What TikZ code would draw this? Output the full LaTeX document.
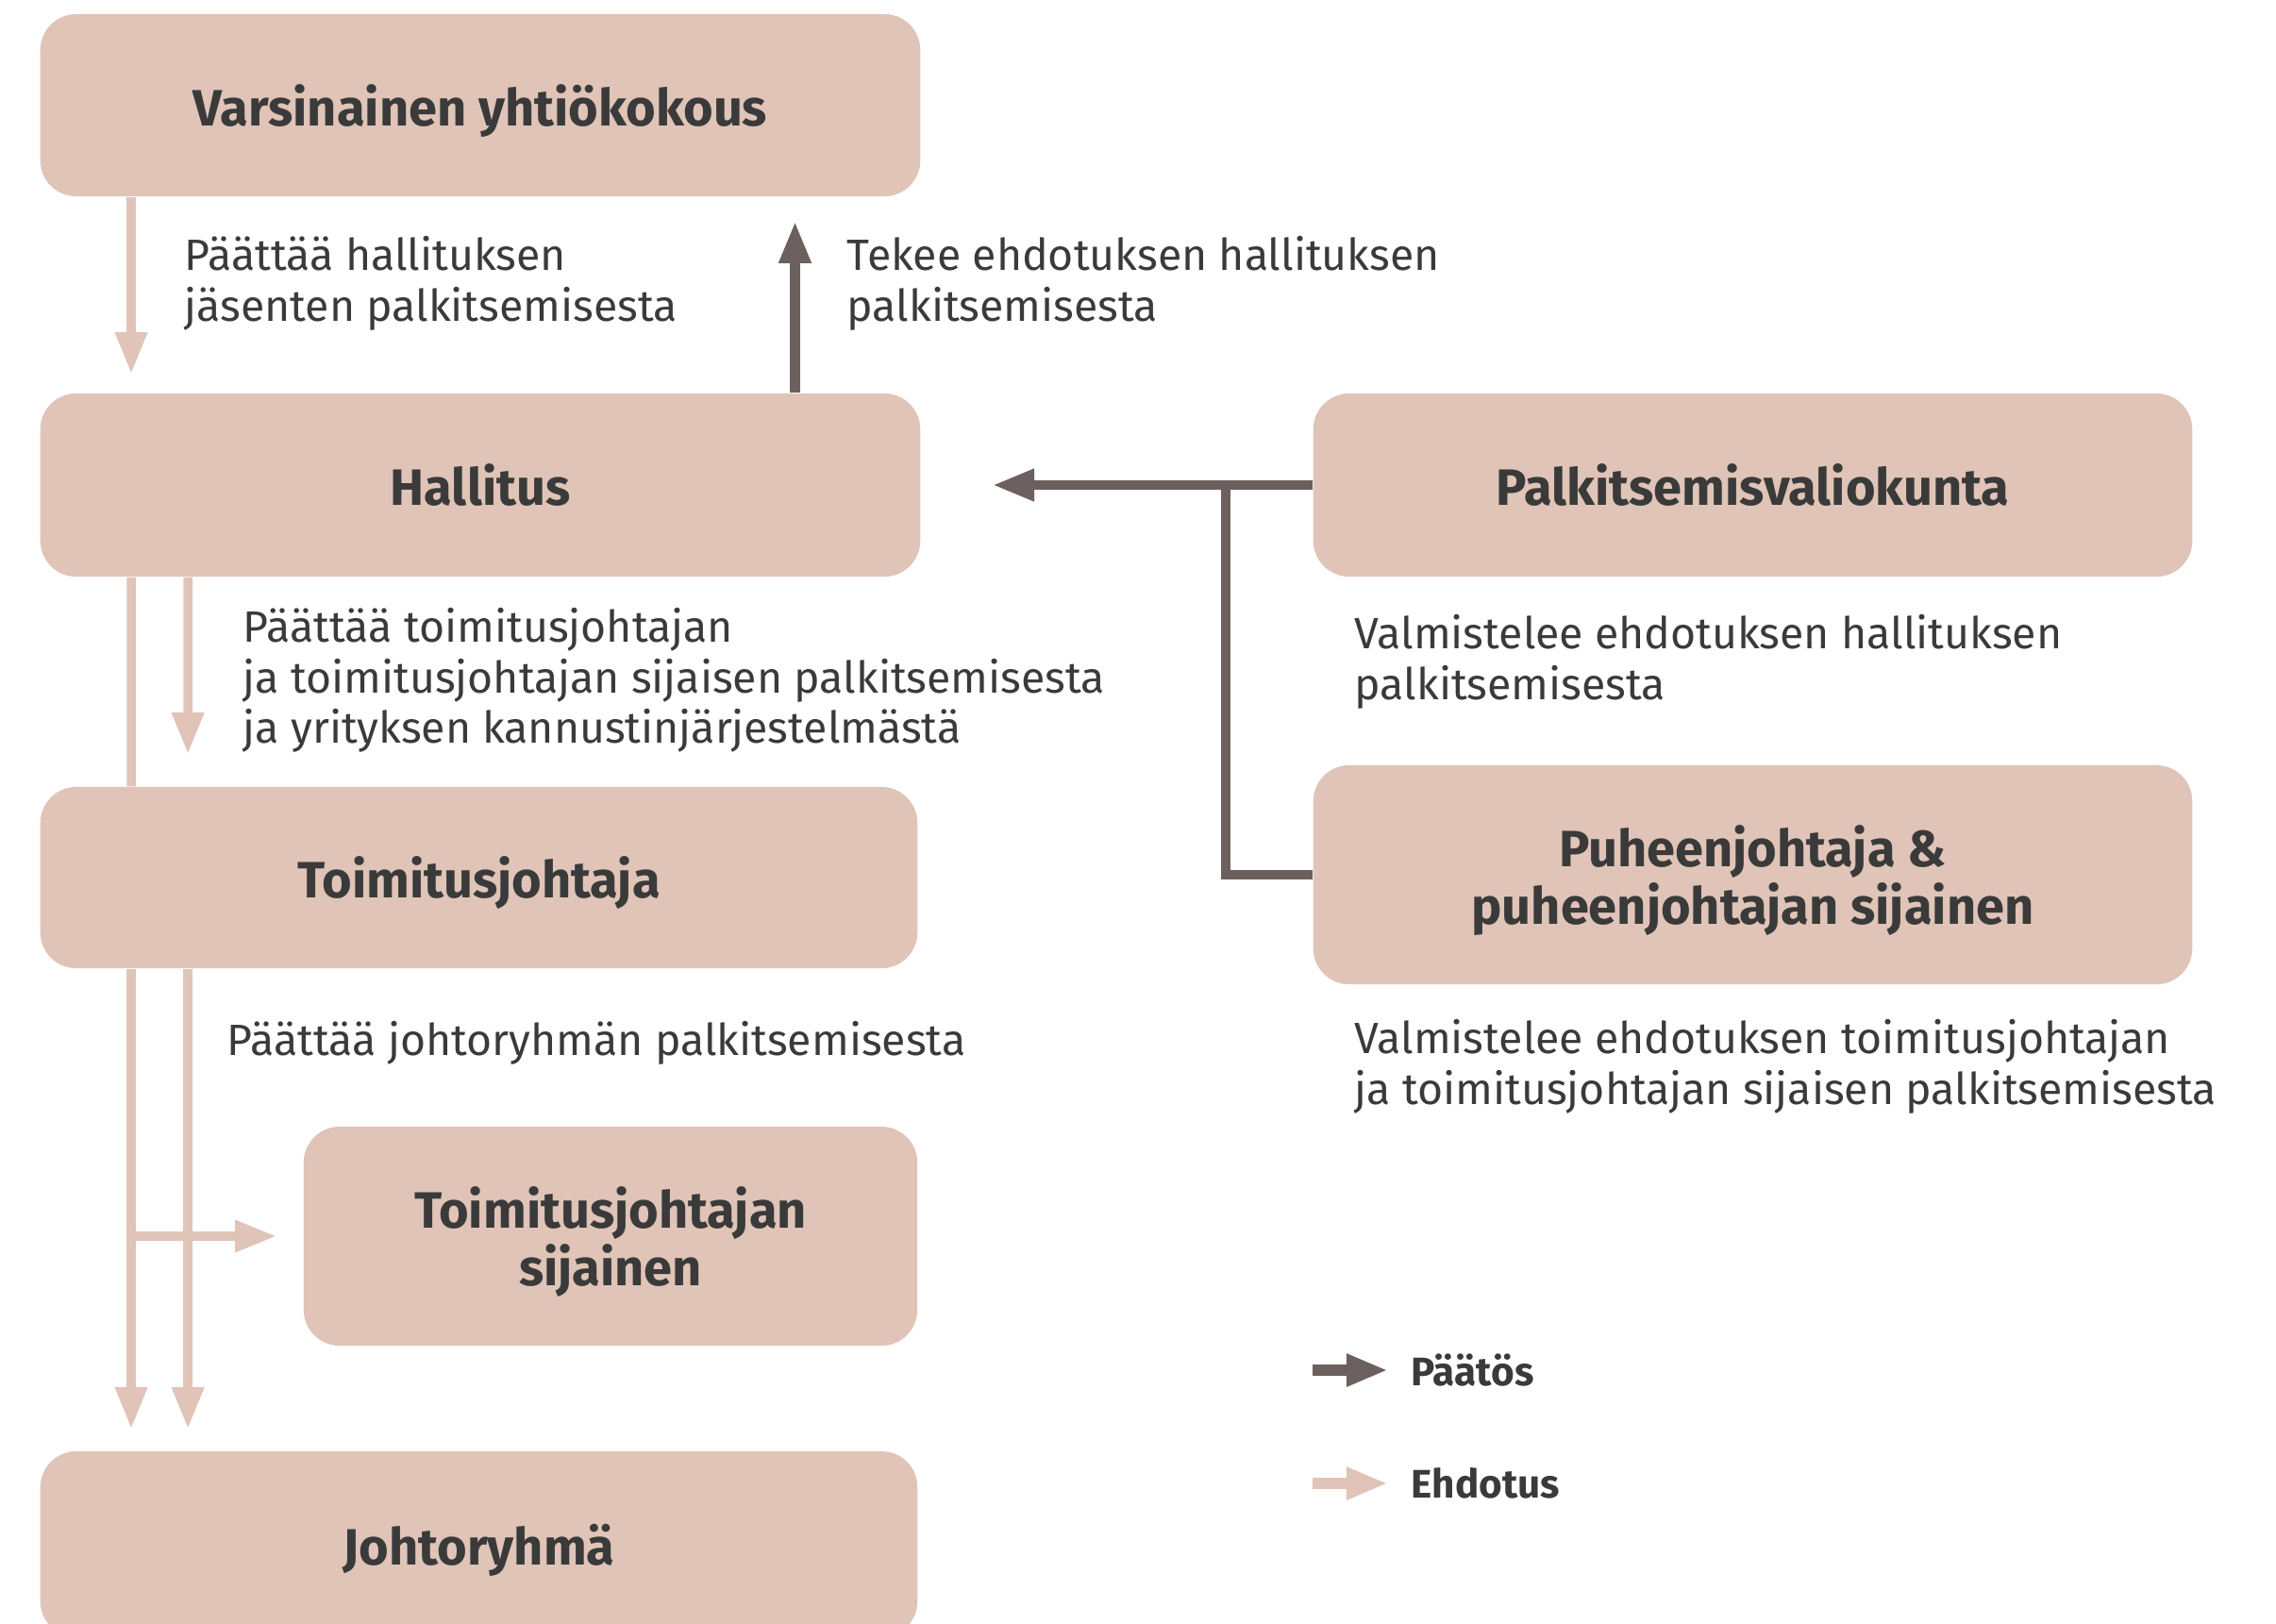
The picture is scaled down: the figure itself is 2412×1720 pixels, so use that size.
\documentclass[tikz,border=0pt]{standalone}
\usepackage{fontspec}
\setmainfont{Fira Sans}
\usetikzlibrary{arrows.meta}
\definecolor{boxc}{HTML}{DFC4B7}
\definecolor{darkc}{HTML}{6B605E}
\definecolor{txtc}{HTML}{3A3A3A}
\tikzset{
  box/.style={fill=boxc, rounded corners=0.38cm, inner sep=0pt, align=center, text=txtc,
    text depth=0pt, font=\fontsize{15.4}{17.5}\selectfont\bfseries},
  lbl/.style={inner sep=0pt, anchor=north west, align=left, text=txtc,
    font=\fontsize{13.2}{15.2}\selectfont},
  leg/.style={inner sep=0pt, anchor=west, text=txtc, font=\fontsize{12}{14}\selectfont\bfseries},
  lite/.style={draw=boxc, line width=0.095cm},
  darkl/.style={draw=darkc, line width=0.1cm, line join=miter},
  tipl/.style={-{Triangle[length=0.44cm, width=0.32cm, fill=boxc]}},
  tipd/.style={-{Triangle[length=0.44cm, width=0.32cm, fill=darkc]}}
}
\begin{document}
\begin{tikzpicture}[x=0.01cm, y=-0.01cm]
\useasboundingbox (0,0) rectangle (2412,1720);
\clip (0,0) rectangle (2412,1720);
% boxes
\node[box, minimum width=9.32cm, minimum height=1.93cm] (V) at (509,111.5) {Varsinainen yhtiökokous};
\node[box, minimum width=9.32cm, minimum height=1.94cm] (H) at (509,514) {Hallitus};
\node[box, minimum width=9.29cm, minimum height=1.92cm] (T) at (507.5,930) {Toimitusjohtaja};
\node[box, minimum width=6.50cm, minimum height=2.32cm] (S) at (647,1310) {Toimitusjohtajan\\sijainen};
\node[box, minimum width=9.29cm, minimum height=1.97cm] (J) at (507.5,1636.5) {Johtoryhmä};
\node[box, minimum width=9.31cm, minimum height=1.94cm] (P) at (1857.5,514) {Palkitsemisvaliokunta};
\node[box, minimum width=9.31cm, minimum height=2.32cm] (PJ) at (1857.5,927) {Puheenjohtaja \&\\puheenjohtajan sijainen};
% labels
\node[lbl] (t1) at (195,250) {Päättää hallituksen\\jäsenten palkitsemisesta};
\node[lbl] (t2) at (897,250) {Tekee ehdotuksen hallituksen\\palkitsemisesta};
\node[lbl] (t3) at (257,644) {Päättää toimitusjohtajan\\ja toimitusjohtajan sijaisen palkitsemisesta\\ja yrityksen kannustinjärjestelmästä};
\node[lbl] (t4) at (240,1082) {Päättää johtoryhmän palkitsemisesta};
\node[lbl] (t5) at (1435,651) {Valmistelee ehdotuksen hallituksen\\palkitsemisesta};
\node[lbl] (t6) at (1435,1080) {Valmistelee ehdotuksen toimitusjohtajan\\ja toimitusjohtajan sijaisen palkitsemisesta};
% connectors
\draw[lite, tipl] ([xshift=0.97cm]V.south west) -- ([xshift=0.97cm, yshift=0.2cm]H.north west);
\draw[darkl, tipd] ([xshift=8cm]H.north west) -- ([xshift=8cm, yshift=-0.26cm]V.south west);
\draw[darkl, tipd] (P.west) -- ([xshift=0.76cm]H.east);
\draw[darkl] (PJ.west) -| ([xshift=-0.92cm]P.west);
\draw[lite] ([xshift=0.97cm]H.south west) -- ([xshift=0.97cm]T.north west);
\draw[lite, tipl] ([xshift=1.57cm]H.south west) -- ([xshift=1.57cm, yshift=0.34cm]T.north west);
\draw[lite, tipl] ([xshift=0.97cm]T.south west) -- ([xshift=0.97cm, yshift=0.23cm]J.north west);
\draw[lite, tipl] ([xshift=1.57cm]T.south west) -- ([xshift=1.57cm, yshift=0.23cm]J.north west);
\draw[lite, tipl] ([xshift=-1.86cm]S.west) -- ([xshift=-0.28cm]S.west);
% legend
\node[leg] (lp) at (1495,1452) {Päätös};
\node[leg] (le) at (1495,1572) {Ehdotus};
\draw[darkl, line width=0.12cm, tipd] ([xshift=-1.04cm]lp.west) -- ([xshift=-0.24cm]lp.west);
\draw[lite, line width=0.12cm, tipl] ([xshift=-1.04cm]le.west) -- ([xshift=-0.24cm]le.west);
\end{tikzpicture}
\end{document}
